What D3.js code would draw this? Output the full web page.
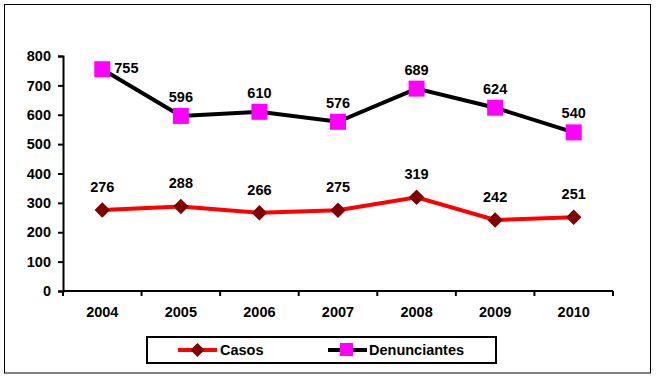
<!DOCTYPE html>
<html>
<head>
<meta charset="utf-8">
<script src="https://cdn.jsdelivr.net/npm/d3@7"></script>
<style>
  body { margin: 0; background: #fff; }
  svg text { font-family: "Liberation Sans", Arial, sans-serif; font-weight: bold; fill: #000; font-size: 14.5px; }
</style>
</head>
<body>
<svg id="chart" width="658" height="382"></svg>
<script>
const years = ['2004', '2005', '2006', '2007', '2008', '2009', '2010'];
const casos = [276, 288, 266, 275, 319, 242, 251];
const denunciantes = [755, 596, 610, 576, 689, 624, 540];
const yTicks = [0, 100, 200, 300, 400, 500, 600, 700, 800];

const svg = d3.select('#chart');

// outer frame
svg.append('rect')
  .attr('x', 4.5).attr('y', 4.5)
  .attr('width', 646).attr('height', 368.5)
  .attr('fill', 'none').attr('stroke', '#000').attr('stroke-width', 1);

const plotLeft = 63, plotRight = 613, plotTop = 56, plotBottom = 291;

const x = d3.scaleBand().domain(years).range([plotLeft, plotRight]);
const y = d3.scaleLinear().domain([0, 800]).range([plotBottom, plotTop]);
const cx = d => x(d) + x.bandwidth() / 2;

// y axis
const yAxis = svg.append('g')
  .attr('transform', `translate(${plotLeft},0)`)
  .call(d3.axisLeft(y).tickValues(yTicks).tickSize(5).tickPadding(7));
yAxis.select('.domain').attr('stroke-width', 2);
yAxis.selectAll('.tick line').attr('stroke-width', 2);
yAxis.selectAll('text').style('font-size', '14.5px').attr('font-family', null);

// x axis with ticks at band boundaries
const xAxis = svg.append('g')
  .attr('transform', `translate(0,${plotBottom})`);
xAxis.append('line')
  .attr('x1', plotLeft).attr('x2', plotRight)
  .attr('stroke', '#000').attr('stroke-width', 2);
xAxis.selectAll('.xt')
  .data(years.concat(['end']))
  .enter().append('line')
  .attr('x1', (d, i) => i < years.length ? x(d) : plotRight)
  .attr('x2', (d, i) => i < years.length ? x(d) : plotRight)
  .attr('y1', 0).attr('y2', 5)
  .attr('stroke', '#000').attr('stroke-width', 2);
xAxis.selectAll('.xl')
  .data(years)
  .enter().append('text')
  .attr('x', d => cx(d))
  .attr('y', 26)
  .attr('text-anchor', 'middle')
  .text(d => d);

const line = d3.line().x((d, i) => cx(years[i])).y(d => y(d));

// Casos
svg.append('path').datum(casos)
  .attr('d', line).attr('fill', 'none')
  .attr('stroke', '#ff0000').attr('stroke-width', 4);
svg.selectAll('.casoMark').data(casos).enter().append('path')
  .attr('d', d3.symbol(d3.symbolSquare, 120)())
  .attr('transform', (d, i) => `translate(${cx(years[i])},${y(d)}) rotate(45)`)
  .attr('fill', '#800000');
svg.selectAll('.casoLbl').data(casos).enter().append('text')
  .attr('x', (d, i) => cx(years[i]))
  .attr('y', d => y(d) - 18)
  .attr('text-anchor', 'middle')
  .text(d => d);

// Denunciantes
svg.append('path').datum(denunciantes)
  .attr('d', line).attr('fill', 'none')
  .attr('stroke', '#000').attr('stroke-width', 4);
svg.selectAll('.denMark').data(denunciantes).enter().append('rect')
  .attr('x', (d, i) => cx(years[i]) - 8)
  .attr('y', d => y(d) - 8)
  .attr('width', 16).attr('height', 16)
  .attr('fill', '#ff00ff');
svg.selectAll('.denLbl').data(denunciantes).enter().append('text')
  .attr('x', (d, i) => i === 0 ? cx(years[i]) + 12 : cx(years[i]))
  .attr('y', (d, i) => i === 0 ? y(d) + 4 : y(d) - 14)
  .attr('text-anchor', (d, i) => i === 0 ? 'start' : 'middle')
  .text(d => d);

// legend
const lg = svg.append('g');
lg.append('rect')
  .attr('x', 147).attr('y', 337)
  .attr('width', 349).attr('height', 26)
  .attr('fill', '#fff').attr('stroke', '#000').attr('stroke-width', 2);
lg.append('line').attr('x1', 178).attr('x2', 217).attr('y1', 350).attr('y2', 350)
  .attr('stroke', '#ff0000').attr('stroke-width', 4);
lg.append('path')
  .attr('d', d3.symbol(d3.symbolSquare, 100)())
  .attr('transform', 'translate(197.5,350) rotate(45)')
  .attr('fill', '#800000');
lg.append('text').attr('x', 220).attr('y', 355).text('Casos');
lg.append('line').attr('x1', 328).attr('x2', 367).attr('y1', 350).attr('y2', 350)
  .attr('stroke', '#000').attr('stroke-width', 4);
lg.append('rect').attr('x', 340).attr('y', 343).attr('width', 13).attr('height', 13)
  .attr('fill', '#ff00ff');
lg.append('text').attr('x', 369).attr('y', 355).text('Denunciantes');
</script>
</body>
</html>
